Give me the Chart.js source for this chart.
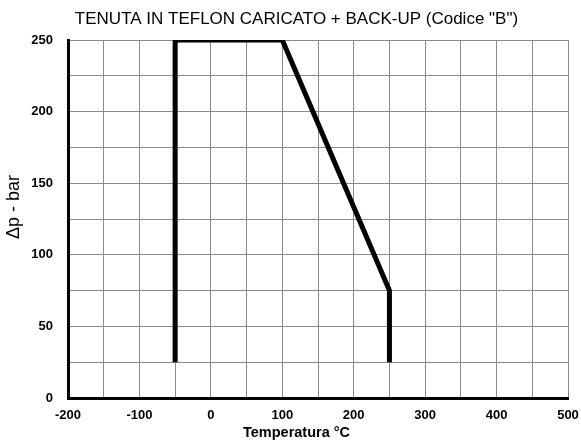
<!DOCTYPE html>
<html>
<head>
<meta charset="utf-8">
<style>
html,body{margin:0;padding:0;background:#fff;}
#wrap{width:581px;height:441px;position:relative;}
</style>
<script src="https://cdn.jsdelivr.net/npm/chart.js@4/dist/chart.umd.min.js"></script>
</head>
<body>
<div id="wrap"><canvas id="c" width="581" height="441"></canvas></div>
<script>
const chartTitle = 'TENUTA IN TEFLON CARICATO + BACK-UP (Codice "B")';
const xAxisTitle = 'Temperatura °C';
const yAxisTitle = 'Δp - bar';
const temperatures = [-50, -50, 100, 250, 250];
const pressures = [25, 250, 250, 75, 25];
const xTickLabels = [-200, -100, 0, 100, 200, 300, 400, 500];
const yTickLabels = [0, 50, 100, 150, 200, 250];

const FONT = '"Liberation Sans", Arial, sans-serif';

const titlesPlugin = {
  id: 'titles',
  afterDraw(chart) {
    const ctx = chart.ctx;
    ctx.save();
    ctx.fillStyle = '#000';
    ctx.textAlign = 'center';
    ctx.textBaseline = 'middle';
    ctx.font = '17px ' + FONT;
    ctx.fillText(chartTitle, 296.5, 19);
    ctx.font = 'bold 14.5px ' + FONT;
    ctx.fillText(xAxisTitle, 296.5, 433);
    ctx.translate(14, 207);
    ctx.rotate(-Math.PI / 2);
    ctx.font = '18px ' + FONT;
    ctx.fillText(yAxisTitle, 0, 0);
    ctx.restore();
  }
};

new Chart(document.getElementById('c'), {
  type: 'scatter',
  data: {
    datasets: [{
      data: temperatures.map((t, i) => ({x: t, y: pressures[i]})),
      showLine: true,
      borderColor: '#000',
      borderWidth: 5,
      pointRadius: 0,
      borderCapStyle: 'butt',
      borderJoinStyle: 'miter',
      tension: 0,
      fill: false
    }]
  },
  options: {
    responsive: false,
    animation: false,
    devicePixelRatio: 1,
    layout: {padding: {top: 40, right: 13, left: 0, bottom: 0}},
    plugins: {legend: {display: false}, title: {display: false}, tooltip: {enabled: false}},
    scales: {
      x: {
        type: 'linear',
        min: -200, max: 500,
        afterFit(s) { s.height = 43; s.paddingLeft = 0; s.paddingRight = 0; },
        border: {display: true, color: '#000', width: 3},
        grid: {color: '#8a8a8a', lineWidth: 1, drawTicks: false},
        ticks: {
          stepSize: 50,
          padding: 10,
          color: '#000',
          maxRotation: 0,
          font: {family: FONT, size: 13, weight: 'bold'},
          callback: v => xTickLabels.includes(v) ? String(v) : ''
        }
      },
      y: {
        type: 'linear',
        min: 0, max: 250,
        afterFit(s) { s.width = 68; s.paddingTop = 0; s.paddingBottom = 0; },
        border: {display: true, color: '#000', width: 3},
        grid: {color: '#8a8a8a', lineWidth: 1, drawTicks: false},
        ticks: {
          stepSize: 25,
          padding: 15,
          color: '#000',
          font: {family: FONT, size: 13, weight: 'bold'},
          callback: v => yTickLabels.includes(v) ? String(v) : ''
        }
      }
    }
  },
  plugins: [titlesPlugin]
});
</script>
</body>
</html>
